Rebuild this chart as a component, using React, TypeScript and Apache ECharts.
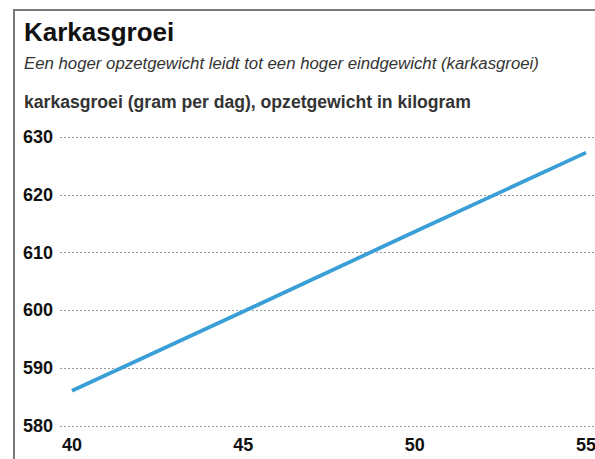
import React, { useEffect, useRef } from "react";
import * as echarts from "echarts";

const titleText = "Karkasgroei";
const subtitleText = "Een hoger opzetgewicht leidt tot een hoger eindgewicht (karkasgroei)";
const axisTitleText = "karkasgroei (gram per dag), opzetgewicht in kilogram";

const opzetgewicht = [40, 45, 50, 55];
const karkasgroei = [586.1, 599.8, 613.6, 627.3];
const xTickLabels = [40, 45, 50, 55];
const yTicks = { min: 580, max: 630, interval: 10 };

const FONT = "'Liberation Sans', Arial, sans-serif";

export default function App() {
  const ref = useRef<HTMLDivElement>(null);
  useEffect(() => {
    if (!ref.current) return;
    const chart = echarts.init(ref.current, null, { renderer: "svg" });
    chart.setOption({
      animation: false,
      backgroundColor: "#ffffff",
      grid: {
        left: 60,
        right: 0,
        top: 137,
        bottom: 33,
        containLabel: false,
        outerBoundsMode: "none",
      },
      graphic: [
        {
          type: "polyline",
          shape: { points: [[14, 459], [14, 10], [595, 10]] },
          style: { stroke: "#7a7a7a", lineWidth: 2, fill: "none" },
        },
        {
          type: "text",
          left: 24,
          top: 19,
          style: { text: titleText, font: `bold 26px ${FONT}`, fill: "#111" },
        },
        {
          type: "text",
          left: 24,
          top: 55,
          style: { text: subtitleText, font: `italic 16.8px ${FONT}`, fill: "#333" },
        },
        {
          type: "text",
          left: 24,
          top: 93,
          style: { text: axisTitleText, font: `bold 17.6px ${FONT}`, fill: "#333" },
        },
      ],
      xAxis: {
        type: "value",
        min: 39.65,
        max: 55.263,
        axisLine: { show: false },
        axisTick: { show: false },
        splitLine: { show: false },
        axisLabel: {
          customValues: xTickLabels,
          margin: 10,
          color: "#111",
          fontFamily: FONT,
          fontWeight: "bold",
          fontSize: 18,
          showMinLabel: true,
          showMaxLabel: true,
        },
      },
      yAxis: {
        type: "value",
        min: yTicks.min,
        max: yTicks.max,
        interval: yTicks.interval,
        axisLine: { show: false },
        axisTick: { show: false },
        axisLabel: {
          margin: 7,
          color: "#111",
          fontFamily: FONT,
          fontWeight: "bold",
          fontSize: 18,
        },
        splitLine: {
          show: true,
          lineStyle: { color: "#9a9a9a", width: 1, type: [2, 2] },
        },
      },
      series: [
        {
          type: "line",
          data: opzetgewicht.map((x, i) => [x, karkasgroei[i]]),
          showSymbol: false,
          symbol: "none",
          lineStyle: { color: "#3a9fd6", width: 3.8 },
        },
      ],
    });
    return () => chart.dispose();
  }, []);
  return (
    <div
      ref={ref}
      style={{ position: "absolute", left: 0, top: 0, width: 595, height: 459 }}
    />
  );
}
